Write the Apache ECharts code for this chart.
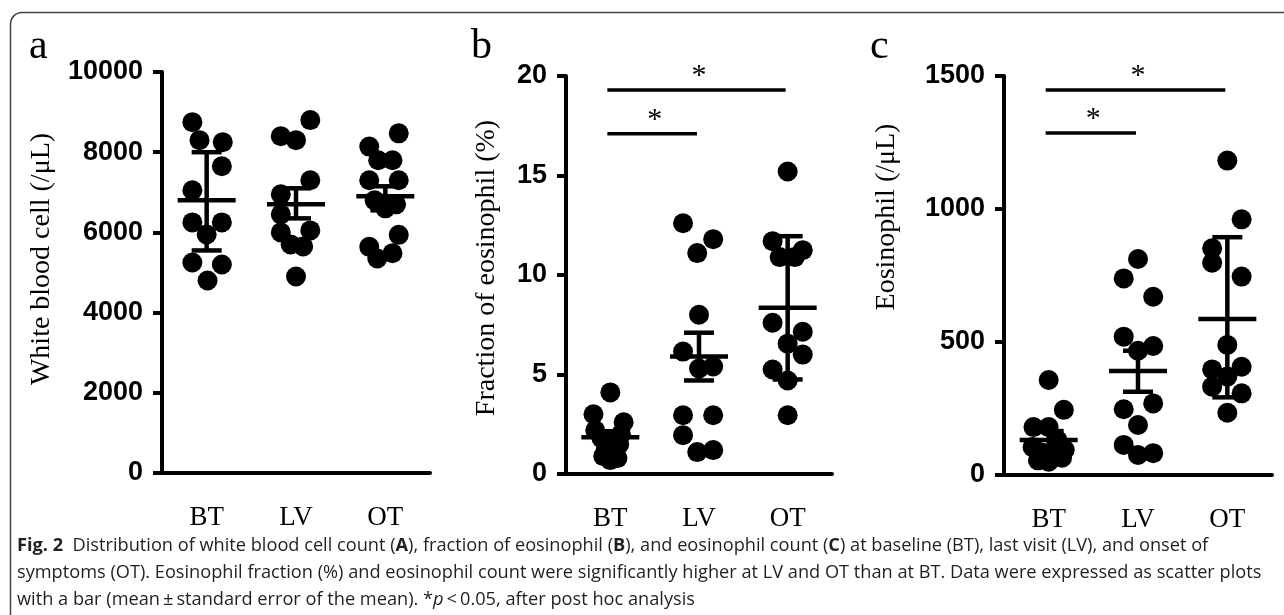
<!DOCTYPE html>
<html>
<head>
<meta charset="utf-8">
<script src="https://cdn.jsdelivr.net/npm/echarts@6/dist/echarts.min.js"></script>
<style>
    html, body { margin: 0; padding: 0; background: #fff; }
    #main { width: 1284px; height: 615px; }
</style>
</head>
<body>
<div id="main"></div>
<script>
// groups on the x axis
var groups = ['BT', 'LV', 'OT'];

// a: white blood cell (/uL), values + sideways spread of the dots (in group units)
var wbcBT = [8750, 8300, 8250, 7650, 7050, 6250, 6250, 5950, 5250, 5200, 4800];
var wbcBTdx = [-0.16, -0.08, 0.18, 0.17, -0.16, -0.16, 0.17, 0, -0.16, 0.17, 0.01];
var wbcLV = [8800, 8400, 8300, 7300, 6950, 6450, 6000, 6050, 5700, 5650, 4900];
var wbcLVdx = [0.16, -0.17, 0, 0.16, -0.17, -0.17, -0.17, 0.16, -0.06, 0.08, 0];
var wbcOT = [8470, 8140, 7800, 7800, 7300, 7300, 6800, 6700, 6600, 5940, 5640, 5480, 5350];
var wbcOTdx = [0.15, -0.18, -0.08, 0.08, -0.18, 0.15, -0.12, 0.12, 0, 0.15, -0.18, 0.08, -0.09];
var wbcMean = [6800, 6700, 6900];
var wbcLow = [5550, 6350, 6550];
var wbcHigh = [8000, 7100, 7150];
var wbcTicks = [0, 2000, 4000, 6000, 8000, 10000];

// b: fraction of eosinophil (%)
var pctBT = [4.1, 3.0, 2.6, 2.2, 2.0, 1.8, 1.5, 1.3, 1.1, 0.9, 0.8, 0.7];
var pctBTdx = [0, -0.19, 0.15, -0.17, 0.12, -0.1, 0.1, -0.05, 0.05, -0.08, 0.08, 0];
var pctLV = [12.6, 11.8, 11.1, 8.0, 6.15, 5.3, 5.4, 2.95, 2.95, 1.95, 1.1, 1.2];
var pctLVdx = [-0.18, 0.16, -0.02, 0, -0.18, 0, 0.16, -0.18, 0.16, -0.18, -0.02, 0.16];
var pctOT = [15.2, 11.7, 11.25, 10.9, 10.9, 7.6, 7.15, 6.55, 6.0, 5.25, 4.7, 2.95];
var pctOTdx = [0, -0.17, 0.17, -0.09, 0.08, -0.17, 0.17, 0, 0.17, -0.17, 0, 0];
var pctMean = [1.85, 5.9, 8.35];
var pctLow = [1.55, 4.7, 4.75];
var pctHigh = [2.15, 7.1, 11.95];
var pctTicks = [0, 5, 10, 15, 20];
var pctSig = [[0, 1, 17.1], [0, 2, 19.3]];

// c: eosinophil (/uL)
var eosBT = [357, 245, 180, 180, 130, 105, 95, 85, 75, 65, 55, 50];
var eosBTdx = [0, 0.17, -0.17, 0, 0.1, -0.18, 0.18, -0.08, 0.08, 0.15, -0.12, 0];
var eosLV = [812, 739, 670, 520, 485, 467, 269, 247, 188, 113, 75, 82];
var eosLVdx = [0, -0.16, 0.17, -0.16, 0.17, 0, 0.17, -0.16, 0, -0.16, 0, 0.17];
var eosOT = [1182, 961, 852, 798, 746, 489, 397, 407, 370, 332, 307, 234];
var eosOTdx = [0, 0.16, -0.17, -0.17, 0.16, 0, -0.17, 0.16, 0, -0.17, 0.16, 0];
var eosMean = [132, 391, 586];
var eosLow = [100, 313, 292];
var eosHigh = [165, 467, 894];
var eosTicks = [0, 500, 1000, 1500];
var eosSig = [[0, 1, 1286], [0, 2, 1447]];

var captionLines = [
    '{b|Fig. 2}  Distribution of white blood cell count ({b|A}), fraction of eosinophil ({b|B}), and eosinophil count ({b|C}) at baseline (BT), last visit (LV), and onset of',
    'symptoms (OT). Eosinophil fraction (%) and eosinophil count were significantly higher at LV and OT than at BT. Data were expressed as scatter plots',
    'with a bar (mean\u2009\u00b1\u2009standard error of the mean). *{i|p}\u2009<\u20090.05, after post hoc analysis'
];

function dotSeries(idx, values, offsets, cat) {
    return {
        type: 'scatter',
        xAxisIndex: idx,
        yAxisIndex: idx,
        symbolSize: 20,
        silent: true,
        itemStyle: { color: '#000', opacity: 1 },
        data: values.map(function (v, i) { return [cat + 0.5 + offsets[i], v]; })
    };
}

function drawMean(params, api) {
    var c = api.coord([api.value(0), api.value(1)]);
    var lo = api.coord([api.value(0), api.value(2)]);
    var hi = api.coord([api.value(0), api.value(3)]);
    var st = { stroke: '#000', lineWidth: 4.5 };
    return {
        type: 'group',
        children: [
            { type: 'line', shape: { x1: c[0] - 29, y1: c[1], x2: c[0] + 29, y2: c[1] }, style: st },
            { type: 'line', shape: { x1: lo[0], y1: lo[1], x2: hi[0], y2: hi[1] }, style: st },
            { type: 'line', shape: { x1: lo[0] - 15, y1: lo[1], x2: lo[0] + 15, y2: lo[1] }, style: st },
            { type: 'line', shape: { x1: hi[0] - 15, y1: hi[1], x2: hi[0] + 15, y2: hi[1] }, style: st }
        ]
    };
}

function meanSeries(idx, mean, low, high) {
    return {
        type: 'custom',
        xAxisIndex: idx,
        yAxisIndex: idx,
        silent: true,
        z: 3,
        renderItem: drawMean,
        encode: { x: 0, y: [1, 2, 3] },
        data: mean.map(function (m, i) { return [i + 0.5, m, low[i], high[i]]; })
    };
}

function drawSig(params, api) {
    var a = api.coord([api.value(0) + 0.5, api.value(2)]);
    var b = api.coord([api.value(1) + 0.5, api.value(2)]);
    return {
        type: 'group',
        children: [
            { type: 'line', shape: { x1: a[0] - 3, y1: a[1], x2: b[0] - 2, y2: b[1] },
              style: { stroke: '#000', lineWidth: 3.5 } },
            { type: 'text', x: (a[0] + b[0]) / 2, y: a[1] - 14,
              style: { text: '*', fontSize: 30, fontFamily: 'Liberation Serif', fill: '#000',
                       align: 'center', verticalAlign: 'middle' } }
        ]
    };
}

function sigSeries(idx, rows) {
    return {
        type: 'custom',
        xAxisIndex: idx,
        yAxisIndex: idx,
        silent: true,
        renderItem: drawSig,
        encode: { x: [0, 1], y: 2 },
        data: rows
    };
}

function xAxisFor(idx) {
    return {
        gridIndex: idx,
        type: 'value',
        min: 0,
        max: 3,
        interval: 0.5,
        axisLine: { show: true, onZero: false, lineStyle: { color: '#000', width: 4 } },
        axisTick: { show: false },
        splitLine: { show: false },
        axisLabel: {
            margin: 31,
            color: '#000',
            fontFamily: 'Liberation Serif',
            fontSize: 27,
            formatter: function (v) {
                var k = v - 0.5;
                return (k % 1 === 0 && groups[k]) ? groups[k] : '';
            }
        }
    };
}

function yAxisFor(idx, ticks) {
    return {
        gridIndex: idx,
        type: 'value',
        min: ticks[0],
        max: ticks[ticks.length - 1],
        interval: ticks[1] - ticks[0],
        axisLine: { show: true, lineStyle: { color: '#000', width: 4 } },
        axisTick: { show: true, length: 9, lineStyle: { color: '#000', width: 4 } },
        splitLine: { show: false },
        axisLabel: {
            margin: 19,
            color: '#000',
            fontFamily: 'Liberation Sans',
            fontWeight: 'bold',
            fontSize: 27,
            formatter: function (v) { return String(v); }
        }
    };
}

function serifText(x, y, text, size, rot, align) {
    return {
        type: 'text',
        x: x,
        y: y,
        rotation: rot || 0,
        silent: true,
        style: {
            text: text,
            fontFamily: 'Liberation Serif',
            fontSize: size,
            fill: '#000',
            align: align || 'center',
            verticalAlign: 'middle'
        }
    };
}

function captionText(y, text) {
    return {
        type: 'text',
        x: 17,
        y: y,
        silent: true,
        style: {
            text: text,
            fontFamily: 'Open Sans',
            fontSize: 18.2,
            fill: '#231f20',
            align: 'left',
            verticalAlign: 'middle',
            rich: {
                b: { fontFamily: 'Open Sans', fontSize: 18.2, fontWeight: 'bold', fill: '#231f20' },
                i: { fontFamily: 'Open Sans', fontSize: 18.2, fontStyle: 'italic', fill: '#231f20' }
            }
        }
    };
}

function draw_figure() {
    var myChart = echarts.init(document.getElementById('main'), null, { renderer: 'canvas' });

    var option = {
        backgroundColor: '#fff',
        animation: false,
        grid: [
            { left: 162, top: 72, width: 268, height: 401, outerBoundsMode: 'none' },
            { left: 566, top: 76, width: 266, height: 398, outerBoundsMode: 'none' },
            { left: 1004, top: 76, width: 268, height: 399, outerBoundsMode: 'none' }
        ],
        xAxis: [xAxisFor(0), xAxisFor(1), xAxisFor(2)],
        yAxis: [yAxisFor(0, wbcTicks), yAxisFor(1, pctTicks), yAxisFor(2, eosTicks)],
        series: [
            dotSeries(0, wbcBT, wbcBTdx, 0),
            dotSeries(0, wbcLV, wbcLVdx, 1),
            dotSeries(0, wbcOT, wbcOTdx, 2),
            meanSeries(0, wbcMean, wbcLow, wbcHigh),

            dotSeries(1, pctBT, pctBTdx, 0),
            dotSeries(1, pctLV, pctLVdx, 1),
            dotSeries(1, pctOT, pctOTdx, 2),
            meanSeries(1, pctMean, pctLow, pctHigh),
            sigSeries(1, pctSig),

            dotSeries(2, eosBT, eosBTdx, 0),
            dotSeries(2, eosLV, eosLVdx, 1),
            dotSeries(2, eosOT, eosOTdx, 2),
            meanSeries(2, eosMean, eosLow, eosHigh),
            sigSeries(2, eosSig)
        ],
        graphic: [
            // frame with rounded top-left corner
            { type: 'polyline', silent: true, shape: { points: [[10.5, 615], [10.5, 24]] },
              style: { stroke: '#444', lineWidth: 1.5, fill: null } },
            { type: 'arc', silent: true, shape: { cx: 22, cy: 24, r: 11.5, startAngle: Math.PI, endAngle: Math.PI * 1.5 },
              style: { stroke: '#444', lineWidth: 1.5, fill: null } },
            { type: 'polyline', silent: true, shape: { points: [[22, 12.5], [1284, 12.5]] },
              style: { stroke: '#444', lineWidth: 1.5, fill: null } },

            // panel letters
            serifText(29, 47, 'a', 42, 0, 'left'),
            serifText(471, 47, 'b', 42, 0, 'left'),
            serifText(870, 47, 'c', 42, 0, 'left'),

            // axis titles
            serifText(42, 259, 'White blood cell (/\u03bcL)', 28, Math.PI / 2),
            serifText(487, 268, 'Fraction of eosinophil (%)', 28, Math.PI / 2),
            serifText(887, 217, 'Eosinophil (/\u03bcL)', 28, Math.PI / 2),

            // caption
            captionText(546, captionLines[0]),
            captionText(573, captionLines[1]),
            captionText(600, captionLines[2])
        ]
    };

    myChart.setOption(option);
}

draw_figure();
</script>
</body>
</html>
